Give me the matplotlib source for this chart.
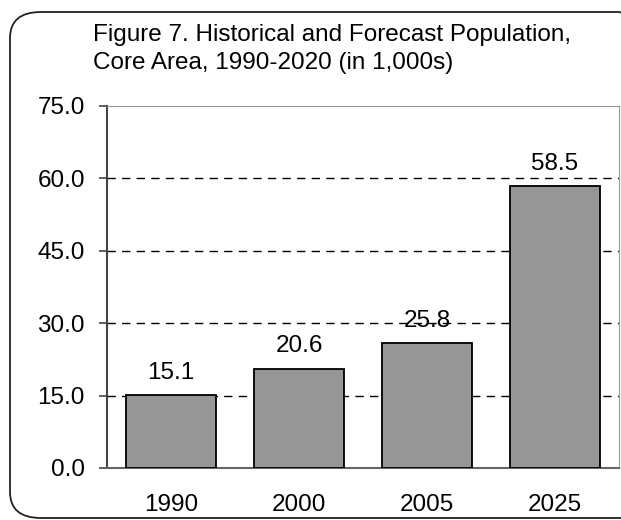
import numpy as np
import matplotlib
matplotlib.use('Agg')
import matplotlib.pyplot as plt
from matplotlib.patches import FancyBboxPatch

years = ['1990', '2000', '2005', '2025']
population = [15.1, 20.6, 25.8, 58.5]
yticks = [0.0, 15.0, 30.0, 45.0, 60.0, 75.0]

plt.rcParams['font.family'] = ['Liberation Sans', 'DejaVu Sans']
fs = 17.5

fig = plt.figure(figsize=(6.21, 5.2), dpi=100)
W, H = 621, 520

# rounded outer frame
frame = FancyBboxPatch((10 / W, 2 / H), 640 / W, 506 / H,
                       boxstyle='round,pad=0,rounding_size=0.05',
                       transform=fig.transFigure, fill=False,
                       edgecolor='#222222', linewidth=1.3)
fig.patches.append(frame)

ax = fig.add_axes([107 / W, 1 - 468 / H, 512 / W, 362 / H])
x = np.arange(len(years))
ax.bar(x, population, width=0.71, color='#969696', edgecolor='black', linewidth=1.3, zorder=3)

for xi, v in zip(x, population):
    ax.annotate('%.1f' % v, (xi, v), xytext=(0, 8), textcoords='offset points',
                ha='center', va='bottom', fontsize=fs, zorder=4)

ax.set_xlim(-0.5, len(years) - 0.5)
ax.set_ylim(0, 75)
ax.set_yticks(yticks)
ax.set_yticklabels(['%.1f' % t for t in yticks], fontsize=fs)
ax.set_xticks(x)
ax.set_xticklabels(years, fontsize=fs)
ax.tick_params(axis='x', length=0, pad=19)
ax.tick_params(axis='y', length=6, width=1.2, color='#444444', pad=10, direction='out')

for t in yticks[1:-1]:
    ax.axhline(t, color='black', linestyle=(0, (6, 4.5)), linewidth=1, zorder=1)

ax.spines['left'].set_color('#444444')
ax.spines['left'].set_linewidth(1.5)
ax.spines['bottom'].set_color('#666666')
ax.spines['bottom'].set_linewidth(1.5)
ax.spines['top'].set_color('#999999')
ax.spines['right'].set_color('#999999')

fig.text(93 / W, 1 - 24 / H, 'Figure 7. Historical and Forecast Population,\nCore Area, 1990-2020 (in 1,000s)',
         ha='left', va='top', fontsize=fs, linespacing=1.35)

fig.savefig('out.png', dpi=100)
